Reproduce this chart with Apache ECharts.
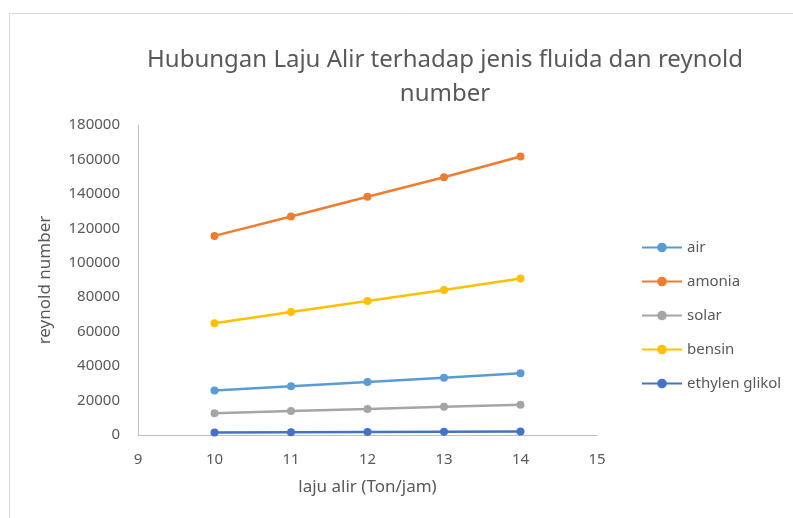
<!DOCTYPE html>
<html>
<head>
<meta charset="utf-8">
<script src="https://cdn.jsdelivr.net/npm/echarts@6/dist/echarts.min.js"></script>
<style>
  html, body { margin: 0; padding: 0; background: #fff; }
  #chart { width: 793px; height: 518px; }
</style>
</head>
<body>
<div id="chart"></div>
<script>
// laju alir (Ton/jam)
const lajuAlir = [10, 11, 12, 13, 14];

// reynold number per fluida
const air = [25800, 28300, 30800, 33300, 35800];
const amonia = [115600, 126900, 138300, 149700, 161700];
const solar = [12600, 13900, 15100, 16400, 17600];
const bensin = [64900, 71400, 77800, 84200, 90900];
const ethylenGlikol = [1400, 1550, 1700, 1850, 2000];

const seriesList = [
  { name: 'air', data: air, color: '#5B9BD5' },
  { name: 'amonia', data: amonia, color: '#ED7D31' },
  { name: 'solar', data: solar, color: '#A5A5A5' },
  { name: 'bensin', data: bensin, color: '#FFC000' },
  { name: 'ethylen glikol', data: ethylenGlikol, color: '#4472C4' }
];

const chart = echarts.init(document.getElementById('chart'));
const labelColor = '#595959';
const fontFamily = '"Noto Sans", sans-serif';

chart.setOption({
  animation: false,
  textStyle: { fontFamily: fontFamily },
  title: {
    text: 'Hubungan Laju Alir terhadap jenis fluida dan reynold\nnumber',
    left: 440,
    top: 38,
    textAlign: 'center',
    textStyle: {
      color: labelColor,
      fontSize: 24,
      fontWeight: 'normal',
      lineHeight: 34,
      fontFamily: fontFamily
    }
  },
  graphic: [
    {
      type: 'rect',
      shape: { x: 9.5, y: 13.5, width: 800, height: 520 },
      style: { fill: 'none', stroke: '#d9d9d9', lineWidth: 1 },
      silent: true
    }
  ],
  legend: {
    orient: 'vertical',
    left: 636,
    top: 235,
    itemWidth: 40,
    itemHeight: 12,
    itemGap: 19,
    textStyle: { color: labelColor, fontSize: 15 },
    data: seriesList.map(s => s.name)
  },
  grid: { left: 138, right: 196, top: 125, bottom: 83 },
  xAxis: {
    type: 'value',
    min: 9,
    max: 15,
    interval: 1,
    name: 'laju alir (Ton/jam)',
    nameLocation: 'middle',
    nameGap: 44,
    nameTextStyle: { color: labelColor, fontSize: 17 },
    axisLine: { lineStyle: { color: '#bfbfbf', width: 1 } },
    axisTick: { show: false },
    splitLine: { show: false },
    axisLabel: { color: labelColor, fontSize: 15, margin: 17 }
  },
  yAxis: {
    type: 'value',
    min: 0,
    max: 180000,
    interval: 20000,
    name: 'reynold number',
    nameLocation: 'middle',
    nameGap: 84,
    nameTextStyle: { color: labelColor, fontSize: 17 },
    axisLine: { show: true, lineStyle: { color: '#bfbfbf', width: 1 } },
    axisTick: { show: false },
    splitLine: { show: false },
    axisLabel: { color: labelColor, fontSize: 15, margin: 18, formatter: v => String(v) }
  },
  series: seriesList.map(s => ({
    name: s.name,
    type: 'line',
    data: lajuAlir.map((x, i) => [x, s.data[i]]),
    symbol: 'circle',
    symbolSize: 8,
    lineStyle: { width: 2.5, color: s.color },
    itemStyle: { color: s.color }
  }))
});
</script>
</body>
</html>
